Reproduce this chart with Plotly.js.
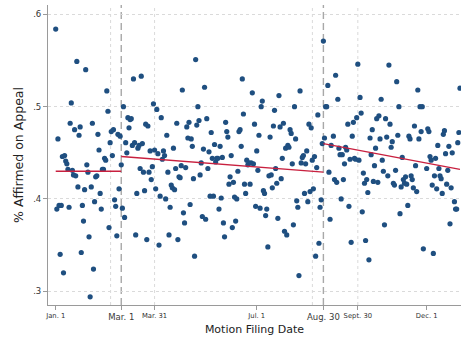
<!DOCTYPE html>
<html>
<head>
<meta charset="utf-8">
<script src="https://cdn.plot.ly/plotly-3.0.1.min.js"></script>
<style>html,body{margin:0;padding:0;background:#fff;}#chart{width:461px;height:339px;}</style>
</head>
<body>
<div id="chart"></div>
<script>
// Day of year (1 = Jan. 1) of the motion filing date
const days = [1,2,3,4,5,6,7,8,9,10,11,12,13,14,15,16,17,18,19,20,21,22,23,24,25,26,27,28,29,30,
31,32,33,34,35,36,37,38,39,40,41,42,43,44,45,46,47,48,49,50,51,52,53,54,55,56,57,58,59,60,
61,62,63,64,65,66,67,68,69,70,71,72,73,74,75,76,77,78,79,80,81,82,83,84,85,86,87,88,89,90,
91,92,93,94,95,96,97,98,99,100,101,102,103,104,105,106,107,108,109,110,111,112,113,114,115,116,117,118,119,120,
121,122,123,124,125,126,127,128,129,130,131,132,133,134,135,136,137,138,139,140,141,142,143,144,145,146,147,148,149,150,
151,152,153,154,155,156,157,158,159,160,161,162,163,164,165,166,167,168,169,170,171,172,173,174,175,176,177,178,179,180,
181,182,183,184,185,186,187,188,189,190,191,192,193,194,195,196,197,198,199,200,201,202,203,204,205,206,207,208,209,210,
211,212,213,214,215,216,217,218,219,220,221,222,223,224,225,226,227,228,229,230,231,232,233,234,235,236,237,238,239,240,
241,242,243,244,245,246,247,248,249,251,252,253,254,255,256,257,258,259,260,261,262,263,264,265,266,267,268,269,270,271,
272,273,274,275,276,277,278,279,280,281,282,283,284,285,286,287,288,289,290,291,292,293,294,295,296,297,298,299,300,301,
302,303,304,305,306,307,308,309,310,311,312,313,314,315,316,317,318,319,320,321,322,323,324,325,326,327,328,329,330,331,
332,335,336,337,338,339,340,341,342,343,344,345,346,347,348,349,350,351,352,353,354,355,356,357,358,360,361,362,363,364,365];

// Share of motions affirmed on appeal
const affirmed = [0.584,0.389,0.465,0.393,0.340,0.393,0.446,0.320,0.447,0.441,0.438,0.432,0.391,0.482,0.504,0.431,0.426,0.475,0.425,0.549,
0.413,0.469,0.478,0.342,0.393,0.376,0.410,0.540,0.437,0.429,0.359,0.294,0.413,0.482,0.324,0.397,0.424,0.425,0.470,0.453,
0.406,0.389,0.432,0.432,0.444,0.442,0.517,0.495,0.369,0.461,0.473,0.447,0.475,0.399,0.392,0.360,0.470,0.411,0.468,0.437,
0.390,0.500,0.380,0.461,0.450,0.488,0.477,0.486,0.487,0.458,0.530,0.461,0.361,0.406,0.455,0.458,0.433,0.533,0.460,0.429,
0.409,0.481,0.356,0.479,0.429,0.452,0.421,0.435,0.503,0.453,0.411,0.497,0.449,0.350,0.403,0.488,0.443,0.452,0.447,0.400,
0.469,0.429,0.361,0.391,0.415,0.412,0.455,0.410,0.433,0.482,0.356,0.424,0.423,0.436,0.518,0.385,0.374,0.434,0.478,0.466,
0.483,0.394,0.465,0.457,0.422,0.338,0.551,0.480,0.500,0.485,0.426,0.439,0.381,0.454,0.521,0.378,0.487,0.433,0.451,0.403,
0.472,0.444,0.403,0.459,0.440,0.444,0.444,0.389,0.457,0.401,0.445,0.374,0.359,0.483,0.473,0.467,0.416,0.424,0.447,0.369,
0.418,0.402,0.376,0.400,0.430,0.473,0.475,0.457,0.530,0.492,0.416,0.406,0.442,0.437,0.439,0.416,0.439,0.515,0.438,0.481,
0.392,0.452,0.431,0.469,0.390,0.500,0.506,0.409,0.406,0.382,0.389,0.348,0.425,0.467,0.426,0.412,0.479,0.496,0.433,0.417,
0.379,0.512,0.478,0.422,0.444,0.482,0.365,0.455,0.361,0.458,0.456,0.475,0.471,0.438,0.372,0.500,0.465,0.398,0.391,0.317,
0.517,0.439,0.445,0.447,0.406,0.438,0.452,0.397,0.481,0.408,0.477,0.442,0.411,0.446,0.338,0.434,0.491,0.352,0.391,0.399,
0.460,0.571,0.466,0.500,0.500,0.523,0.429,0.378,0.458,0.468,0.421,0.534,0.418,0.508,0.455,0.448,0.400,0.448,0.421,0.438,
0.456,0.453,0.481,0.392,0.443,0.353,0.468,0.483,0.444,0.443,0.488,0.546,0.442,0.510,0.493,0.386,0.428,0.417,0.355,0.421,
0.407,0.334,0.466,0.448,0.475,0.419,0.436,0.455,0.487,0.418,0.490,0.465,0.508,0.442,0.430,0.372,0.487,0.467,0.425,0.545,
0.481,0.456,0.462,0.417,0.415,0.431,0.527,0.469,0.500,0.384,0.413,0.445,0.421,0.417,0.424,0.416,0.393,0.468,0.465,0.425,
0.421,0.412,0.479,0.436,0.408,0.518,0.465,0.500,0.473,0.500,0.346,0.433,0.476,0.473,0.446,0.442,0.415,0.341,0.425,0.444,
0.411,0.458,0.433,0.425,0.422,0.406,0.470,0.474,0.449,0.416,0.431,0.457,0.373,0.412,0.450,0.397,0.389,0.389,0.461,0.472,0.520];

// Linear fits within each period (start/end day and fitted value)
const fitPeriods = ['Jan. 1 - Feb. 28', 'Mar. 1 - Aug. 29', 'Aug. 30 - Dec. 31'];
const fitDays = [[1, 60], [60, 242], [242, 365]];
const fitValues = [[0.430, 0.430], [0.446, 0.429], [0.460, 0.432]];

// Axis ticks
const minorTickDays = [1, 90, 182, 273, 335];
const minorTickLabels = ['Jan. 1', 'Mar. 31', 'Jul. 1', 'Sept. 30', 'Dec. 1'];
const majorTickDays = [60, 242];
const majorTickLabels = ['Mar. 1', 'Aug. 30'];
const gridDays = [50.4, 90, 232.1, 273];
const yTickVals = [0.3, 0.4, 0.5, 0.6];
const yTickLabels = ['.3', '.4', '.5', '.6'];

const FONT = 'DejaVu Sans, Verdana, sans-serif';
const LINE_COL = '#9a9a9a';
const xRange = [-5.95, 365.9];

const traces = [{
  type: 'scatter', mode: 'markers', x: days, y: affirmed,
  marker: {color: '#1f4f80', size: 5.2, line: {width: 0}},
  hoverinfo: 'x+y', showlegend: false
}];
fitDays.forEach((d, i) => {
  traces.push({
    type: 'scatter', mode: 'lines', x: d, y: fitValues[i], name: fitPeriods[i],
    line: {color: '#c8203f', width: 1.3}, showlegend: false
  });
});
// carrier trace for the second x axis (big tick labels)
traces.push({type: 'scatter', mode: 'markers', x: [], y: [], xaxis: 'x2', yaxis: 'y', showlegend: false, hoverinfo: 'skip'});

const shapes = [];
gridDays.forEach(d => shapes.push({
  type: 'line', xref: 'x', yref: 'paper', x0: d, x1: d, y0: 0, y1: 1, layer: 'below',
  line: {color: '#dadada', width: 1, dash: 'dot'}
}));
majorTickDays.forEach(d => shapes.push({
  type: 'line', xref: 'x', yref: 'paper', x0: d, x1: d, y0: 0, y1: 1, layer: 'below',
  line: {color: '#a8a8a8', width: 1.4, dash: '7px,4px'}
}));

const layout = {
  width: 461, height: 339,
  margin: {l: 48, r: 0, t: 5, b: 34},
  paper_bgcolor: '#ffffff', plot_bgcolor: '#ffffff',
  font: {family: FONT, color: '#222'},
  showlegend: false,
  xaxis: {
    range: xRange, showgrid: false, zeroline: false,
    showline: true, linecolor: LINE_COL, linewidth: 1,
    ticks: 'outside', ticklen: 4, tickcolor: LINE_COL, tickwidth: 1,
    tickmode: 'array', tickvals: minorTickDays, ticktext: minorTickLabels,
    tickfont: {size: 6.8, family: FONT, color: '#333'},
    title: {text: 'Motion Filing Date', font: {size: 11, family: FONT, color: '#222'}, standoff: 6},
    automargin: false
  },
  xaxis2: {
    overlaying: 'x', anchor: 'y', side: 'bottom', range: xRange,
    showgrid: false, zeroline: false, showline: false,
    ticks: 'outside', ticklen: 4, tickcolor: LINE_COL, tickwidth: 1,
    tickmode: 'array', tickvals: majorTickDays, ticktext: majorTickLabels,
    tickfont: {size: 8.5, family: FONT, color: '#3a3a3a'},
    automargin: false
  },
  yaxis: {
    range: [0.2851, 0.6101], zeroline: false,
    showline: true, linecolor: LINE_COL, linewidth: 1,
    ticks: 'outside', ticklen: 4, tickcolor: LINE_COL, tickwidth: 1,
    tickmode: 'array', tickvals: yTickVals, ticktext: yTickLabels,
    tickfont: {size: 8.5, family: FONT, color: '#333'},
    showgrid: true, gridcolor: '#dadada', gridwidth: 1, griddash: 'dot',
    title: {text: '% Affirmed on Appeal', font: {size: 12.5, family: FONT, color: '#222'}, standoff: 6},
    automargin: false
  },
  shapes: shapes
};

Plotly.newPlot('chart', traces, layout, {displayModeBar: false, staticPlot: true});
</script>
</body>
</html>
